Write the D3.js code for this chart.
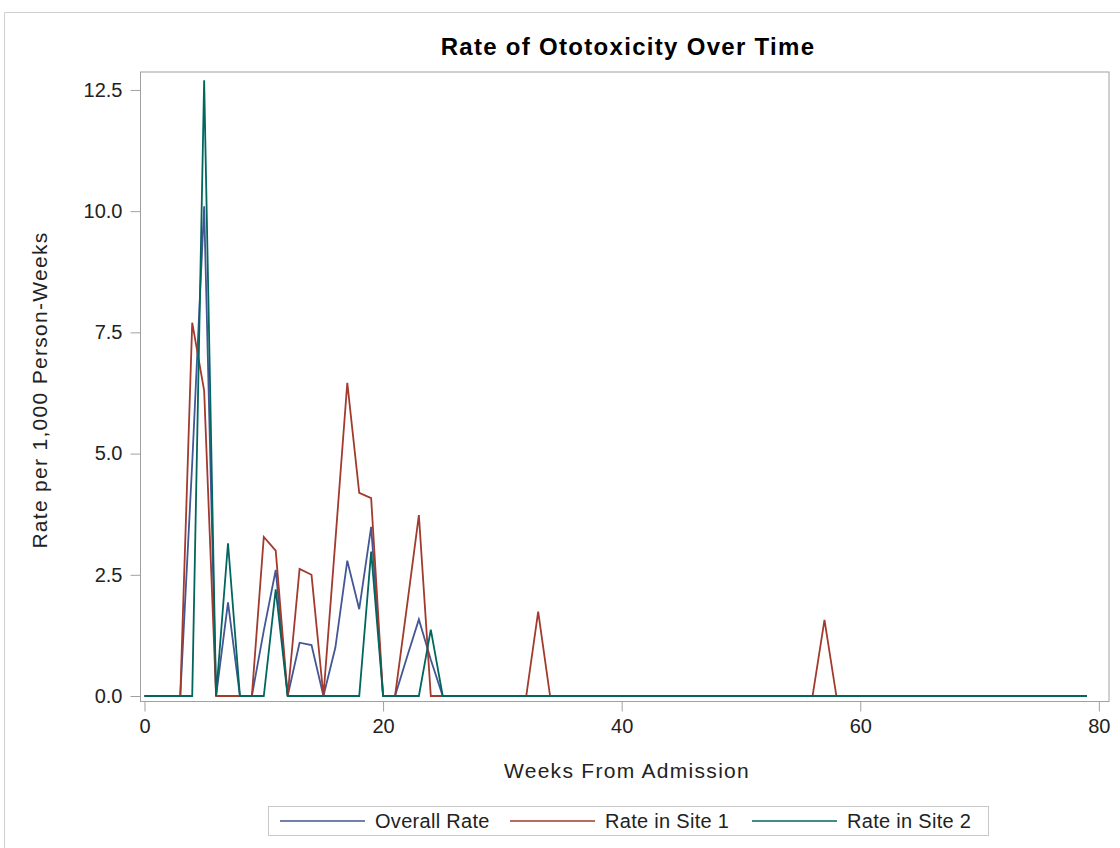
<!DOCTYPE html>
<html>
<head>
<meta charset="utf-8">
<script src="https://cdn.jsdelivr.net/npm/d3@7"></script>
<style>
  body { margin: 0; background: #fff; }
  svg text { font-family: "Liberation Sans", Arial, sans-serif; }
</style>
</head>
<body>
<svg width="1120" height="848"></svg>
<script>
// weeks 0..79
var weeks = d3.range(0, 80);

var overall_rate = [0, 0, 0, 0, 4.8, 10.1, 0, 1.93, 0, 0,
  1.35, 2.6, 0, 1.1, 1.05, 0, 1.0, 2.79, 1.79, 3.49,
  0, 0, 0.8, 1.58, 0.75, 0, 0, 0, 0, 0,
  0, 0, 0, 0, 0, 0, 0, 0, 0, 0,
  0, 0, 0, 0, 0, 0, 0, 0, 0, 0,
  0, 0, 0, 0, 0, 0, 0, 0, 0, 0,
  0, 0, 0, 0, 0, 0, 0, 0, 0, 0,
  0, 0, 0, 0, 0, 0, 0, 0, 0, 0];

var site1_rate = [0, 0, 0, 0, 7.7, 6.3, 0, 0, 0, 0,
  3.28, 3.0, 0, 2.62, 2.5, 0, 3.2, 6.46, 4.19, 4.08,
  0, 0, 1.85, 3.73, 0, 0, 0, 0, 0, 0,
  0, 0, 0, 1.74, 0, 0, 0, 0, 0, 0,
  0, 0, 0, 0, 0, 0, 0, 0, 0, 0,
  0, 0, 0, 0, 0, 0, 0, 1.57, 0, 0,
  0, 0, 0, 0, 0, 0, 0, 0, 0, 0,
  0, 0, 0, 0, 0, 0, 0, 0, 0, 0];

var site2_rate = [0, 0, 0, 0, 0, 12.7, 0, 3.15, 0, 0,
  0, 2.2, 0, 0, 0, 0, 0, 0, 0, 2.98,
  0, 0, 0, 0, 1.37, 0, 0, 0, 0, 0,
  0, 0, 0, 0, 0, 0, 0, 0, 0, 0,
  0, 0, 0, 0, 0, 0, 0, 0, 0, 0,
  0, 0, 0, 0, 0, 0, 0, 0, 0, 0,
  0, 0, 0, 0, 0, 0, 0, 0, 0, 0,
  0, 0, 0, 0, 0, 0, 0, 0, 0, 0];

var series_names = ["Overall Rate", "Rate in Site 1", "Rate in Site 2"];
var series_colors = ["#445694", "#A23A2E", "#01665E"];
var x_ticks = [0, 20, 40, 60, 80];
var y_ticks = [0, 2.5, 5, 7.5, 10, 12.5];

var svg = d3.select("svg"),
    width = +svg.attr("width"),
    height = +svg.attr("height");

var plot = { left: 140.5, top: 72, right: 1109, bottom: 701.5 };

// outer frame of the graph
svg.append("path")
  .attr("d", "M4.5,848V12.5H1120")
  .attr("fill", "none")
  .attr("stroke", "#cfcfcf")
  .attr("stroke-width", 1);

var x = d3.scaleLinear().domain([-0.335, 80.85]).range([plot.left, plot.right]);
var y = d3.scaleLinear().domain([-0.113, 12.87]).range([plot.bottom, plot.top]);

function style_axis(g) {
  g.select(".domain").remove();
  g.selectAll(".tick line").attr("stroke", "#a0a0a0");
  g.selectAll(".tick text").attr("fill", "#222").style("font-size", "20px");
}

svg.append("g")
  .attr("transform", "translate(" + plot.left + ",0)")
  .call(d3.axisLeft(y).tickValues(y_ticks).tickSize(10).tickPadding(8).tickFormat(d3.format(".1f")))
  .call(style_axis);

svg.append("g")
  .attr("transform", "translate(0," + plot.bottom + ")")
  .call(d3.axisBottom(x).tickValues(x_ticks).tickSize(10).tickPadding(7))
  .call(style_axis);

svg.append("rect")
  .attr("x", plot.left)
  .attr("y", plot.top)
  .attr("width", plot.right - plot.left)
  .attr("height", plot.bottom - plot.top)
  .attr("fill", "none")
  .attr("stroke", "#a0a0a0")
  .attr("stroke-width", 1);

var line = d3.line()
  .x(function(d) { return x(d[0]); })
  .y(function(d) { return y(d[1]); });

var all_series = [overall_rate, site1_rate, site2_rate];

svg.append("g")
  .attr("id", "lines")
  .selectAll("path")
  .data(all_series)
  .enter().append("path")
  .attr("d", function(s) { return line(weeks.map(function(w, i) { return [w, s[i]]; })); })
  .attr("fill", "none")
  .attr("stroke", function(s, i) { return series_colors[i]; })
  .attr("stroke-width", 1.8)
  .attr("stroke-linejoin", "miter");

// titles
svg.append("text")
  .attr("x", 628).attr("y", 55)
  .attr("text-anchor", "middle")
  .style("font-size", "24px").style("font-weight", "bold")
  .style("letter-spacing", "1.3px")
  .attr("fill", "#000")
  .text("Rate of Ototoxicity Over Time");

svg.append("text")
  .attr("x", 627).attr("y", 778)
  .attr("text-anchor", "middle")
  .style("font-size", "21px")
  .style("letter-spacing", "1.3px")
  .attr("fill", "#222")
  .text("Weeks From Admission");

svg.append("text")
  .attr("transform", "translate(47,390) rotate(-90)")
  .attr("text-anchor", "middle")
  .style("font-size", "21px")
  .style("letter-spacing", "1.3px")
  .attr("fill", "#222")
  .text("Rate per 1,000 Person-Weeks");

// legend
var legend = svg.append("g").attr("id", "legend");
legend.append("rect")
  .attr("x", 268.5).attr("y", 806.5)
  .attr("width", 720).attr("height", 29)
  .attr("fill", "#fff")
  .attr("stroke", "#c8c8c8");

var legend_x = [280, 510, 752];
var item = legend.selectAll("g.item")
  .data(series_names)
  .enter().append("g")
  .attr("class", "item")
  .attr("transform", function(d, i) { return "translate(" + legend_x[i] + ",821)"; });

item.append("line")
  .attr("x1", 0).attr("x2", 85)
  .attr("stroke", function(d, i) { return series_colors[i]; })
  .attr("stroke-width", 1.5);

item.append("text")
  .attr("x", 95).attr("y", 7)
  .style("font-size", "20px")
  .style("letter-spacing", "0.3px")
  .attr("fill", "#222")
  .text(function(d) { return d; });
</script>
</body>
</html>
